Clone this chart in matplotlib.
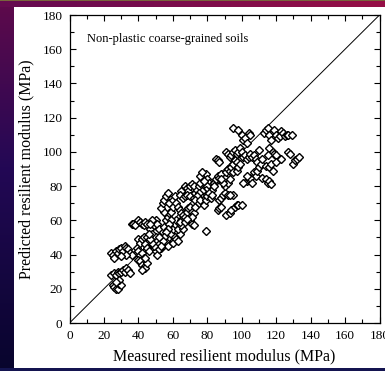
import numpy as np
import matplotlib
matplotlib.use("Agg")
import matplotlib.pyplot as plt
from matplotlib.ticker import MultipleLocator

measured = [
    24,25,26,27,28,29,30,31,32,33,34,35,36,33,30,
    24,26,27,28,29,30,31,32,33,34,35,
    25,26,27,28,29,30,29,27,
    36,37,38,40,41,42,43,44,45,
    39,40,41,42,43,40,41,42,43,44,42,45,44,
    40,41,42,43,45,46,44,45,46,
    47,48,49,50,51,52,50,51,52,53,50,51,52,53,54,55,56,57,58,55,53,54,55,56,57,58,59,60,56,57,58,59,60,61,62,60,61,62,63,64,63,64,65,59,58,57,56,55,54,53,52,49,48,47,46,48,47,
    60,61,62,63,64,65,66,67,68,69,70,66,67,68,69,70,71,72,65,64,66,67,68,70,72,73,74,75,76,77,78,79,80,81,82,83,84,85,86,87,88,80,79,78,77,76,75,74,73,71,72,70,71,72,71,73,75,76,78,79,80,81,82,83,79,66,65,64,67,68,76,77,78,85,86,87,84,
    86,87,88,87,88,89,90,92,95,91,93,94,96,97,98,100,90,91,92,93,94,95,96,97,91,92,93,94,95,96,97,98,99,90,92,93,89,88,95,97,98,99,93,
    95,98,100,101,102,104,105,103,100,101,102,103,104,105,106,107,108,109,107,108,109,110,111,110,112,113,114,115,116,117,116,118,119,120,115,114,116,117,120,118,112,114,115,116,117,119,120,121,122,123,124,125,126,127,129,127,130,131,132,133,128,123,103,104,105,106,101,103,
]
predicted = [
    41,40,38,42,41,43,44,42,45,44,43,41,40,40,39,
    28,29,28,30,29,30,31,30,32,31,29,
    22,21,20,20,23,22,25,24,
    58,58,57,60,59,58,57,59,58,
    44,42,40,41,38,37,36,34,33,32,31,35,38,
    49,47,49,50,50,48,46,44,42,
    55,52,57,60,58,55,50,48,46,44,42,40,43,50,53,56,60,62,64,65,67,70,72,74,76,70,65,68,48,45,50,52,55,58,60,47,50,49,48,52,55,58,60,60,58,55,53,50,48,45,50,45,47,49,52,60,58,
    72,74,70,68,66,64,63,62,65,67,68,78,80,79,77,80,81,80,77,75,73,74,75,74,73,76,78,80,82,85,86,87,84,82,80,78,82,84,86,85,87,80,78,76,77,75,76,74,72,65,64,60,58,57,62,68,70,72,69,72,74,76,73,75,54,55,57,59,59,61,86,88,83,96,95,94,80,
    66,67,68,72,73,75,76,75,75,63,64,66,68,69,69,69,85,88,90,89,91,93,95,94,100,99,97,98,100,101,99,100,102,80,82,84,82,84,88,89,91,93,75,
    114,113,110,107,108,111,110,105,100,97,98,96,97,99,97,98,96,94,88,86,89,91,93,101,96,111,113,114,110,107,102,100,99,98,98,92,91,93,94,89,85,84,82,83,81,113,110,108,109,112,111,109,110,110,110,100,93,95,96,97,99,96,83,84,85,82,82,86,
]

xticks = [0, 20, 40, 60, 80, 100, 120, 140, 160, 180]
yticks = [0, 20, 40, 60, 80, 100, 120, 140, 160, 180]
xlabel = "Measured resilient modulus (MPa)"
ylabel = "Predicted resilient modulus (MPa)"
note = "Non-plastic coarse-grained soils"

W, H = 385, 371
fig = plt.figure(figsize=(W / 100, H / 100), dpi=100)
plt.rcParams['font.family'] = ['Liberation Serif', 'DejaVu Serif']

# slide-like background
bg = np.ones((H, W, 3))
yy = np.linspace(0, 1, H)[:, None]
xx = np.linspace(0, 1, W)[None, :]
top = np.array([95, 10, 75]) / 255
bot = np.array([8, 5, 45]) / 255
mid = np.array([35, 8, 85]) / 255
left_col = np.where(yy < 0.45, top + (mid - top) * (yy / 0.45), mid + (bot - mid) * ((yy - 0.45) / 0.55))
left_col = np.broadcast_to(left_col[:, None, :] if left_col.ndim == 2 else left_col, (H, 1, 3))
bg[:, :14, :] = left_col
c1 = np.array([100, 10, 80]) / 255
c2 = np.array([150, 15, 70]) / 255
stripe = c1 + (c2 - c1) * xx[..., None]
bg[:7, :, :] = np.broadcast_to(stripe, (7, W, 3))
bg[0, :, :] = np.array([120, 100, 60]) / 255
bg[368:, :, :] = np.array([20, 20, 80]) / 255
bgax = fig.add_axes([0, 0, 1, 1], zorder=-10)
bgax.imshow(bg, aspect='auto', interpolation='nearest')
bgax.axis('off')

ax = fig.add_axes([69.5 / W, (H - 323) / H, 310 / W, 308 / H])
ax.plot([0, 180], [0, 180], color='black', lw=0.7, zorder=1)
ax.plot(measured, predicted, linestyle='none', marker='D', markersize=3.6,
        markerfacecolor='white', markeredgecolor='black', markeredgewidth=1.0, zorder=2)
ax.set_xlim(0, 180)
ax.set_ylim(0, 180)
ax.set_xticks(xticks)
ax.set_yticks(yticks)
ax.xaxis.set_minor_locator(MultipleLocator(10))
ax.yaxis.set_minor_locator(MultipleLocator(10))
ax.tick_params(which='both', direction='in', top=True, right=True, labelsize=9.5, width=0.8)
ax.tick_params(which='major', length=4.5, pad=5)
ax.tick_params(which='minor', length=3)
for s in ax.spines.values():
    s.set_linewidth(0.9)
ax.set_xlabel(xlabel, fontsize=11.5, labelpad=5)
ax.set_ylabel(ylabel, fontsize=11.5, labelpad=6)
ax.text(10.2, 166, note, fontsize=9, va='center', ha='left')

fig.savefig("out.png", dpi=100)
